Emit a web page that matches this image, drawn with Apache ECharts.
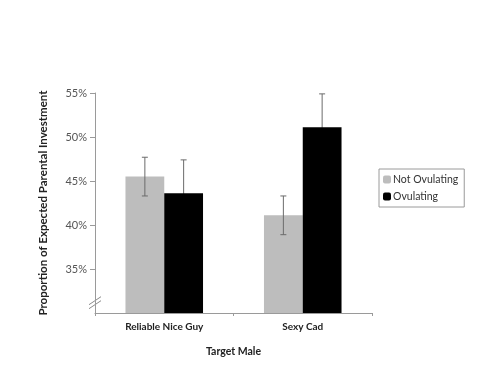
<!DOCTYPE html>
<html>
<head>
<meta charset="utf-8">
<script src="https://cdn.jsdelivr.net/npm/echarts@6/dist/echarts.min.js"></script>
<style>
    html, body { margin: 0; padding: 0; background: #fff; }
    #chart { width: 500px; height: 375px; }
</style>
</head>
<body>
<div id="chart"></div>
<script>
const categories = ['Reliable Nice Guy', 'Sexy Cad'];
const notOvulating = [45.5, 41.1];
const ovulating = [43.6, 51.1];
const notOvulatingErr = [2.2, 2.2];
const ovulatingErr = [3.8, 3.8];
const yTicks = [35, 40, 45, 50, 55];

const font = 'Lato, "Open Sans", sans-serif';
const barPart = 0.28;

function errorSeries(name, values, errs, side, z) {
    return {
        name: name,
        type: 'custom',
        z: z,
        silent: true,
        data: values.map((v, i) => [i, v - errs[i], v + errs[i]]),
        renderItem: function (params, api) {
            let band = api.size([1, 0])[0];
            let shift = side * band * barPart / 2;
            let lo = api.coord([api.value(0), api.value(1)]);
            let hi = api.coord([api.value(0), api.value(2)]);
            let x = lo[0] + shift;
            let cap = 3;
            let style = {stroke: '#6b6b6b', lineWidth: 1};
            return {
                type: 'group',
                children: [
                    {type: 'line', shape: {x1: x, y1: lo[1], x2: x, y2: hi[1]}, style: style},
                    {type: 'line', shape: {x1: x - cap, y1: hi[1], x2: x + cap, y2: hi[1]}, style: style},
                    {type: 'line', shape: {x1: x - cap, y1: lo[1], x2: x + cap, y2: lo[1]}, style: style}
                ]
            };
        }
    };
}

const myChart = echarts.init(document.getElementById('chart'));

let option = {
    backgroundColor: '#fff',
    animation: false,
    textStyle: {fontFamily: font},
    grid: {left: 95, right: 128, top: 93, bottom: 62},
    legend: {
        orient: 'vertical',
        left: 379,
        top: 169,
        padding: [5, 6, 5, 4],
        itemGap: 6,
        itemWidth: 8,
        itemHeight: 8,
        borderColor: '#9a9a9a',
        borderWidth: 1,
        data: ['Not Ovulating', 'Ovulating'],
        textStyle: {fontFamily: font, fontSize: 10.5, color: '#333', padding: [0, 0, 0, -3]}
    },
    xAxis: {
        type: 'category',
        data: categories,
        name: 'Target Male',
        nameLocation: 'middle',
        nameGap: 33,
        nameTextStyle: {fontFamily: font, fontSize: 10.5, fontWeight: 'bold', color: '#222'},
        axisLine: {lineStyle: {color: '#9a9a9a'}},
        axisTick: {show: true, length: 3, lineStyle: {color: '#9a9a9a'}},
        axisLabel: {fontFamily: font, fontSize: 10, fontWeight: 'bold', color: '#222', margin: 9}
    },
    yAxis: {
        type: 'value',
        min: 30,
        max: 55,
        interval: 5,
        name: 'Proportion of Expected Parental Investment',
        nameLocation: 'middle',
        nameGap: 46,
        nameTextStyle: {fontFamily: font, fontSize: 11.5, fontWeight: 'bold', color: '#222'},
        splitLine: {show: false},
        axisLine: {show: true, lineStyle: {color: '#9a9a9a'}},
        axisTick: {show: true, length: 5, customValues: yTicks, lineStyle: {color: '#9a9a9a'}},
        axisLabel: {
            customValues: yTicks,
            fontFamily: font,
            fontSize: 11,
            color: '#555',
            margin: 8,
            formatter: v => v + '%'
        }
    },
    series: [
        {
            name: 'Not Ovulating',
            type: 'bar',
            z: 2,
            barWidth: (barPart * 100) + '%',
            barGap: '0%',
            itemStyle: {color: '#bdbdbd'},
            data: notOvulating
        },
        {
            name: 'Ovulating',
            type: 'bar',
            z: 2,
            barWidth: (barPart * 100) + '%',
            barGap: '0%',
            itemStyle: {color: '#000'},
            data: ovulating
        },
        errorSeries('Not Ovulating err', notOvulating, notOvulatingErr, -1, 3),
        errorSeries('Ovulating err', ovulating, ovulatingErr, 1, 1)
    ]
};
myChart.setOption(option);

// axis break mark "//" on the y axis
let p = myChart.convertToPixel({xAxisIndex: 0, yAxisIndex: 0}, [0, 31.4]);
let ax = 95;
myChart.setOption({
    graphic: [
        {type: 'line', shape: {x1: ax - 6, y1: p[1] + 4, x2: ax + 6, y2: p[1] - 4}, style: {stroke: '#8a8a8a', lineWidth: 1}},
        {type: 'line', shape: {x1: ax - 6, y1: p[1] + 8, x2: ax + 6, y2: p[1]}, style: {stroke: '#8a8a8a', lineWidth: 1}}
    ]
});
</script>
</body>
</html>
